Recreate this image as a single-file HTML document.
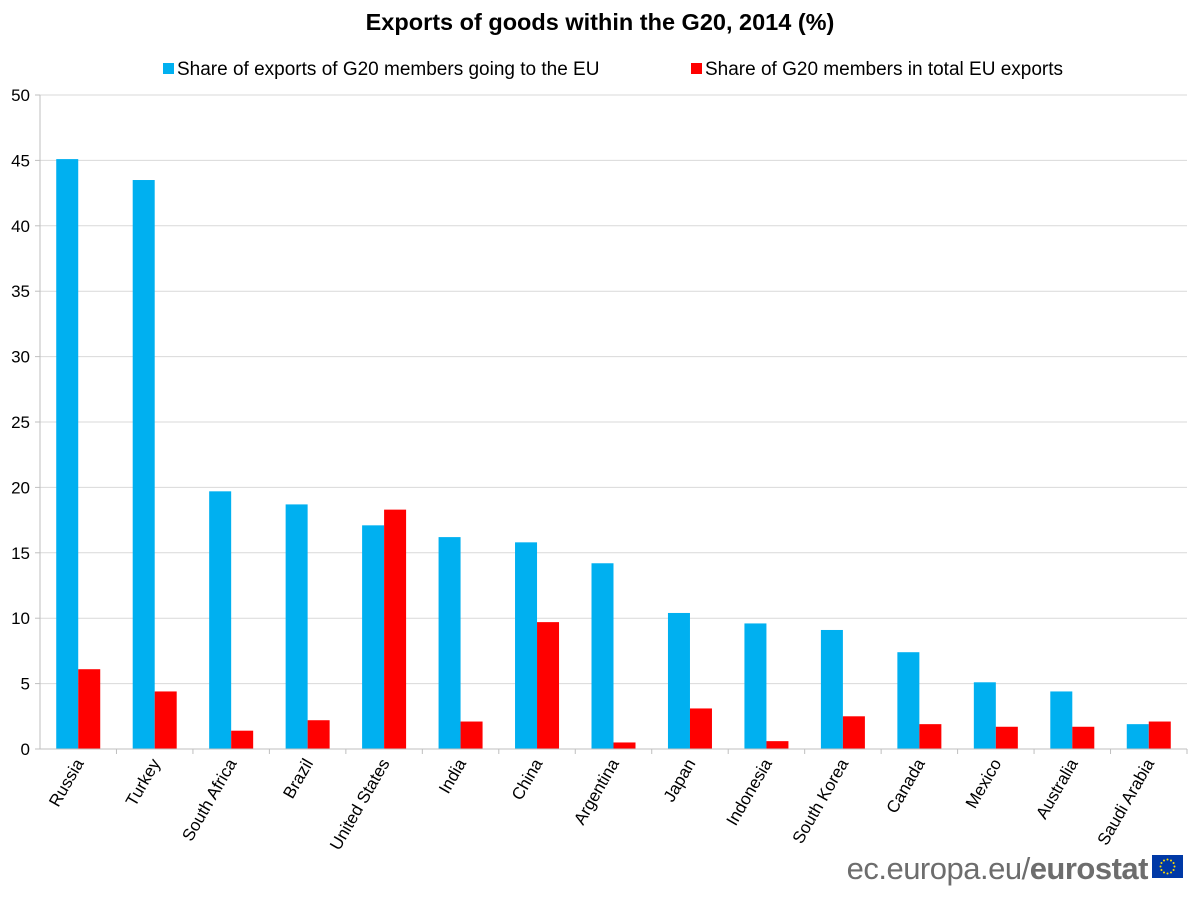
<!DOCTYPE html>
<html><head><meta charset="utf-8"><style>
body{margin:0;background:#fff;}
svg{display:block;font-family:"Liberation Sans",Arial,sans-serif;}
</style></head><body>
<svg id="chart" width="1200" height="902" viewBox="0 0 1200 902">
<text x="600" y="30" text-anchor="middle" font-size="23.5" font-weight="bold" fill="#000">Exports of goods within the G20, 2014 (%)</text>
<g>
<rect x="163" y="63" width="11" height="11" fill="#00b0f0"/>
<text x="177" y="75" font-size="19" fill="#000">Share of exports of G20 members going to the EU</text>
<rect x="691" y="63" width="11" height="11" fill="#ff0000"/>
<text x="705" y="75" font-size="19" fill="#000">Share of G20 members in total EU exports</text>
</g>
<g id="grid"></g><g id="bars"></g><g id="axes"></g>
<g>
<text x="1148" y="879" text-anchor="end" font-size="31" fill="#6d6d6d" letter-spacing="-0.5">ec.europa.eu/<tspan font-weight="bold">eurostat</tspan></text>
<rect x="1152" y="855" width="31" height="23" fill="#0039a6"/>
<g id="stars"></g>
</g>
</svg>
<script>
const categories=["Russia","Turkey","South Africa","Brazil","United States","India","China","Argentina","Japan","Indonesia","South Korea","Canada","Mexico","Australia","Saudi Arabia"];
const euShare=[45.1,43.5,19.7,18.7,17.1,16.2,15.8,14.2,10.4,9.6,9.1,7.4,5.1,4.4,1.9];
const g20Share=[6.1,4.4,1.4,2.2,18.3,2.1,9.7,0.5,3.1,0.6,2.5,1.9,1.7,1.7,2.1];
const yTicks=[0,5,10,15,20,25,30,35,40,45,50];
const NS="http://www.w3.org/2000/svg";
const x0=40,x1=1187,yTop=95,yBot=749,yMax=50;
const gw=(x1-x0)/categories.length,bw=22;
const y=v=>yBot-(v/yMax)*(yBot-yTop);
function mk(tag,attrs,parent){const e=document.createElementNS(NS,tag);for(const k in attrs)e.setAttribute(k,attrs[k]);parent.appendChild(e);return e;}
const grid=document.getElementById('grid'),bars=document.getElementById('bars'),axes=document.getElementById('axes');
yTicks.forEach(t=>{
 if(t>0){const l=mk('line',{x1:x0,x2:x1,y1:y(t),y2:y(t),stroke:'#d9d9d9','stroke-width':1},grid);
 
 }
 const tk=mk('line',{x1:x0-5,x2:x0,y1:y(t),y2:y(t),stroke:'#bfbfbf'},axes);
 
 
 const tx=mk('text',{x:30,y:y(t)+6,'text-anchor':'end','font-size':17,fill:'#000'},axes);
 tx.textContent=t;
 
 
});
const ya=mk('line',{x1:x0,x2:x0,y1:yTop,y2:yBot,stroke:'#bfbfbf'},axes);


const xa=mk('line',{x1:x0,x2:x1,y1:yBot,y2:yBot,stroke:'#bfbfbf'},axes);


categories.forEach((c,i)=>{
 const cx=x0+gw*(i+0.5);
 const b1=mk('rect',{x:cx-bw,y:y(euShare[i]),width:bw,height:yBot-y(euShare[i]),fill:'#00b0f0'},bars);
 
 
 const b2=mk('rect',{x:cx,y:y(g20Share[i]),width:bw,height:yBot-y(g20Share[i]),fill:'#ff0000'},bars);
 
 
 const tk=mk('line',{x1:x0+gw*(i+1),x2:x0+gw*(i+1),y1:yBot,y2:yBot+5,stroke:'#bfbfbf'},axes);
 
 
 const tx=mk('text',{x:0,y:0,'text-anchor':'end','font-size':17,fill:'#000',transform:`translate(${cx+6},${yBot+14}) rotate(-60)`},axes);
 tx.textContent=c;
 
 
});
const stars=document.getElementById('stars');
for(let k=0;k<12;k++){const a=k*Math.PI/6;
 const s=mk('circle',{cx:1167.5+7*Math.cos(a),cy:866.5+7*Math.sin(a),r:1,fill:'#ffdd00'},stars);
 
 }
</script>
</body></html>
